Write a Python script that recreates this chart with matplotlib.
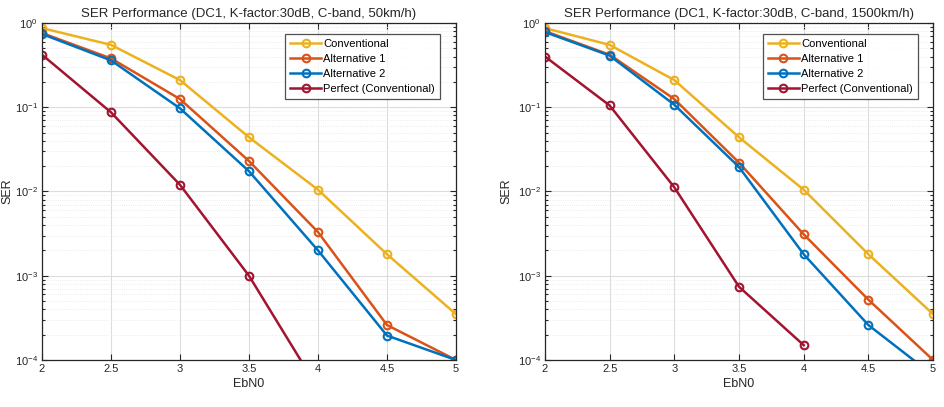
import matplotlib
matplotlib.use("Agg")
import matplotlib.pyplot as plt
from matplotlib.ticker import LogLocator, NullFormatter, FixedLocator

plt.rcParams['font.family'] = ['Liberation Sans', 'DejaVu Sans']

ebn0 = [2, 2.5, 3, 3.5, 4, 4.5, 5]

# Left: 50 km/h
l_conv = [0.87, 0.55, 0.21, 0.044, 0.0105, 0.0018, 3.5e-4]
l_alt1 = [0.76, 0.38, 0.125, 0.023, 0.0033, 2.6e-4, 1.0e-4]
l_alt2 = [0.74, 0.36, 0.097, 0.0174, 0.0020, 1.95e-4, 1.0e-4]
l_perf = [0.42, 0.087, 0.012, 1.0e-3, 4.6e-5]

# Right: 1500 km/h
r_conv = [0.87, 0.55, 0.21, 0.044, 0.0105, 0.0018, 3.5e-4]
r_alt1 = [0.80, 0.42, 0.125, 0.022, 0.0031, 5.2e-4, 1.0e-4]
r_alt2 = [0.78, 0.41, 0.107, 0.0195, 0.0018, 2.6e-4, 6.6e-5]
r_perf = [0.40, 0.105, 0.0112, 7.4e-4, 1.5e-4]

labels = ['Conventional', 'Alternative 1', 'Alternative 2', 'Perfect (Conventional)']
colors = ['#EDB120', '#D95319', '#0072BD', '#A2142F']
titles = ['SER Performance (DC1, K-factor:30dB, C-band, 50km/h)',
          'SER Performance (DC1, K-factor:30dB, C-band, 1500km/h)']
xticks = [2, 2.5, 3, 3.5, 4, 4.5, 5]
xticklabels = ['2', '2.5', '3', '3.5', '4', '4.5', '5']

fig = plt.figure(figsize=(9.44, 4.07), dpi=100)
ax1 = fig.add_axes([0.0445, 0.1155, 0.4385, 0.828])
ax2 = fig.add_axes([0.5773, 0.1155, 0.4111, 0.828])

for ax, series, title, ylx in [(ax1, [l_conv, l_alt1, l_alt2, l_perf], titles[0], -0.068),
                               (ax2, [r_conv, r_alt1, r_alt2, r_perf], titles[1], -0.085)]:
    for ys, c, lab in zip(series, colors, labels):
        ax.plot(ebn0[:len(ys)], ys, color=c, lw=1.8, marker='o', ms=5.5,
                mfc='none', mew=1.5, label=lab)
    ax.set_yscale('log')
    ax.set_xlim(2, 5)
    ax.set_ylim(1e-4, 1)
    ax.xaxis.set_major_locator(FixedLocator(xticks))
    ax.set_xticklabels(xticklabels)
    ax.yaxis.set_major_locator(LogLocator(base=10, numticks=10))
    ax.yaxis.set_minor_locator(LogLocator(base=10, subs=range(2, 10), numticks=10))
    ax.yaxis.set_minor_formatter(NullFormatter())
    ax.grid(True, which='major', color='#dcdcdc', lw=0.8)
    ax.grid(True, which='minor', axis='y', color='#e6e6e6', lw=0.6, ls=':')
    ax.set_axisbelow(True)
    ax.tick_params(which='both', direction='in', top=True, right=True,
                   labelsize=8, colors='#262626', width=0.8)
    ax.tick_params(which='major', length=4, pad=3)
    ax.tick_params(which='minor', length=2)
    for s in ax.spines.values():
        s.set_color('#262626')
        s.set_linewidth(0.9)
    ax.set_title(title, fontsize=9.5, color='#262626', pad=4)
    ax.set_xlabel('EbN0', fontsize=9, color='#262626', labelpad=3)
    ax.set_ylabel('SER', fontsize=9, color='#262626')
    ax.yaxis.set_label_coords(ylx, 0.5)
    leg = ax.legend(loc='upper right', fontsize=8, frameon=True, fancybox=False,
                    edgecolor='#262626', handlelength=2.8, borderpad=0.45,
                    labelspacing=0.45, handletextpad=0.2,
                    bbox_to_anchor=(0.975, 0.985))
    leg.get_frame().set_linewidth(0.9)

fig.savefig('out.png', dpi=100)
